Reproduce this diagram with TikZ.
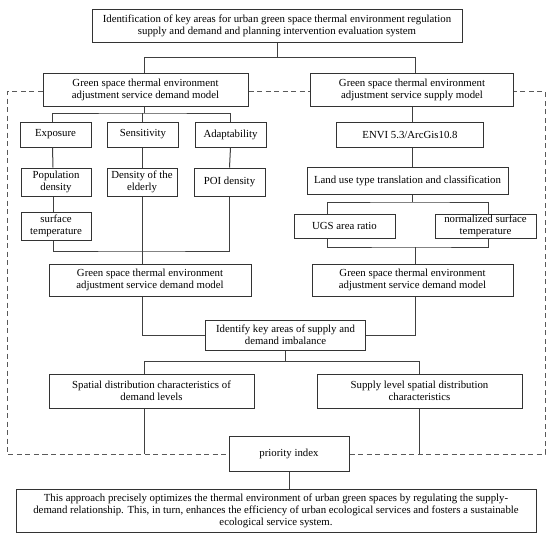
\documentclass[tikz,border=0pt]{standalone}
\usepackage{fontspec}
\setmainfont{Liberation Serif}
\tikzset{box/.style={draw=black!80,line width=1pt,align=center,inner sep=1pt,font=\fontsize{10.8}{12}\selectfont},
ln/.style={draw=black!75,line width=1pt},
dsh/.style={draw=black!65,line width=1pt,dash pattern=on 5pt off 3.5pt}}
\begin{document}
\begin{tikzpicture}[x=1pt,y=-1pt]
\useasboundingbox (0,0) rectangle (550,538);
\node[box,minimum width=370,minimum height=33] (top) at (277,26) {Identification of key areas for urban green space thermal environment regulation\\supply and demand and planning intervention evaluation system};
\node[box,minimum width=205,minimum height=33] (demmod) at (145.5,90) {Green space thermal environment\\adjustment service demand model};
\node[box,minimum width=203,minimum height=33] (supmod) at (412,90) {Green space thermal environment\\adjustment service supply model};
\node[box,minimum width=71,minimum height=25] (expo) at (55.5,134.5) {Exposure};
\node[box,minimum width=71,minimum height=25] (sens) at (143,134.5) {Sensitivity};
\node[box,minimum width=71,minimum height=25] (adapt) at (230.5,134.5) {Adaptability};
\node[box,minimum width=147,minimum height=25] (envi) at (410,134.5) {ENVI 5.3/ArcGis10.8};
\node[box,minimum width=70,minimum height=28] (popd) at (56,182) {Population\\density};
\node[box,minimum width=70,minimum height=28] (elder) at (142,182) {Density of the\\elderly};
\node[box,minimum width=71,minimum height=28] (poi) at (229.5,182) {POI density};
\node[box,minimum width=70,minimum height=28] (surft) at (56,226) {surface\\temperature};
\node[box,minimum width=201,minimum height=27] (landuse) at (407.5,180.5) {Land use type translation and classification};
\node[box,minimum width=101,minimum height=24] (ugs) at (344.5,226) {UGS area ratio};
\node[box,minimum width=101,minimum height=24] (nst) at (485.5,226) {normalized surface\\temperature};
\node[box,minimum width=202,minimum height=32] (demmod2) at (150,280) {Green space thermal environment\\adjustment service demand model};
\node[box,minimum width=201,minimum height=32] (supmod2) at (412.5,280) {Green space thermal environment\\adjustment service demand model};
\node[box,minimum width=160,minimum height=30] (ident) at (285.5,335) {Identify key areas of supply and\\demand imbalance};
\node[box,minimum width=205,minimum height=34] (spdem) at (151.5,391) {Spatial distribution characteristics of\\demand levels};
\node[box,minimum width=205,minimum height=34] (spsup) at (419.5,391) {Supply level spatial distribution\\characteristics};
\node[box,minimum width=120,minimum height=35] (prio) at (289,454) {priority index};
\node[box,minimum width=520,minimum height=43] (final) at (276,510.5) {This approach precisely optimizes the thermal environment of urban green spaces by regulating the supply-\\demand relationship. This, in turn, enhances the efficiency of urban ecological services and fosters a sustainable\\ecological service system.};
\coordinate (j1) at (277,57.5);
\coordinate (j2) at (144,113);
\coordinate (j3) at (142,251);
\coordinate (j4) at (412,202);
\coordinate (j5) at (415,247);
\coordinate (j6) at (285.5,361.5);
\coordinate (dl) at (7,0);
\coordinate (dr) at (545,0);
\draw[ln] (top.south) -- (j1);
\draw[ln] (demmod.north -| j2) |- (j1) -| (supmod.north -| j5);
\draw[ln] (demmod.south -| j2) -- (j2);
\draw[ln] ([xshift=-3]expo.north) |- (j2) -| (adapt.north);
\draw[ln] (sens.north -| j3) -- (j3 |- j2);
\draw[ln] ([xshift=-3]expo.south) -- ([xshift=-3]popd.north);
\draw[ln] (sens.south -| j3) -- (elder.north -| j3);
\draw[ln] (adapt.south) -- (poi.north);
\draw[ln] ([xshift=-3]popd.south) -- ([xshift=-3]surft.north);
\draw[ln] ([xshift=-3]surft.south) |- (j3) -| (poi.south);
\draw[ln] (elder.south -| j3) -- (demmod2.north -| j3);
\draw[ln] (supmod.south -| j4) -- (envi.north -| j4);
\draw[ln] (envi.south -| j4) -- (landuse.north -| j4);
\draw[ln] (landuse.south -| j4) -- (j4);
\draw[ln] ([xshift=34]ugs.north west) |- (j4) -| ([xshift=54]nst.north west);
\draw[ln] ([xshift=34]ugs.south west) |- (j5) -| ([xshift=54]nst.south west);
\draw[ln] (j5) -- (supmod2.north -| j5);
\draw[ln] (demmod2.south -| j3) |- (ident.west);
\draw[ln] (supmod2.south -| j5) |- (ident.east);
\draw[ln] (ident.south) -- (j6);
\draw[ln] (spdem.north -| j2) |- (j6) -| (spsup.north);
\draw[ln] (spdem.south -| j2) -- (j2 |- prio.west);
\draw[ln] (spsup.south) -- (spsup.south |- prio.east);
\draw[ln] (prio.south) -- (prio.south |- final.north);
\draw[dsh] (demmod.west |- 0,91.5) -| (dl |- prio.west) -- (prio.west);
\draw[dsh] (prio.east) -| (dr |- 0,91.5) -- (supmod.east |- 0,91.5);
\draw[dsh] (demmod.east |- 0,91.5) -- (supmod.west |- 0,91.5);
\end{tikzpicture}
\end{document}
